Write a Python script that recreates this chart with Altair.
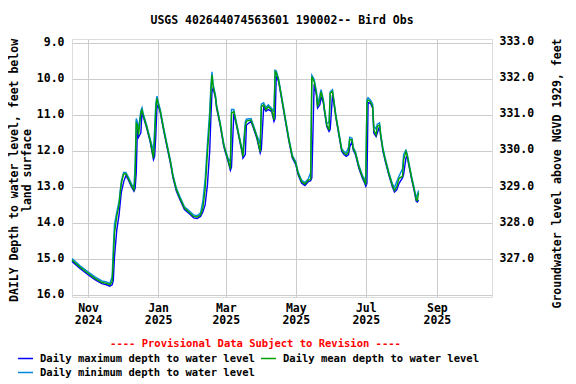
import altair as alt
import pandas as pd

dates = [
    "2024-10-18", "2024-10-25", "2024-11-01", "2024-11-07", "2024-11-13", "2024-11-17", "2024-11-20", "2024-11-22",
    "2024-11-23", "2024-11-24", "2024-11-26", "2024-11-28", "2024-11-29", "2024-11-30", "2024-12-02", "2024-12-04",
    "2024-12-06", "2024-12-09", "2024-12-11", "2024-12-12", "2024-12-13", "2024-12-14", "2024-12-15", "2024-12-17",
    "2024-12-18", "2024-12-19", "2024-12-22", "2024-12-25", "2024-12-28", "2024-12-29", "2024-12-30", "2024-12-31",
    "2025-01-01", "2025-01-03", "2025-01-06", "2025-01-09", "2025-01-12", "2025-01-14", "2025-01-17", "2025-01-20",
    "2025-01-24", "2025-01-29", "2025-02-01", "2025-02-04", "2025-02-07", "2025-02-09", "2025-02-11", "2025-02-13",
    "2025-02-15", "2025-02-16", "2025-02-17", "2025-02-18", "2025-02-20", "2025-02-21", "2025-02-24", "2025-02-27",
    "2025-02-28", "2025-03-03", "2025-03-05", "2025-03-06", "2025-03-08", "2025-03-09", "2025-03-12", "2025-03-15",
    "2025-03-16", "2025-03-18", "2025-03-19", "2025-03-23", "2025-03-25", "2025-03-28", "2025-03-31", "2025-04-01",
    "2025-04-03", "2025-04-05", "2025-04-07", "2025-04-10", "2025-04-12", "2025-04-13", "2025-04-14", "2025-04-16",
    "2025-04-19", "2025-04-22", "2025-04-25", "2025-04-28", "2025-05-01", "2025-05-03", "2025-05-06", "2025-05-09",
    "2025-05-12", "2025-05-14", "2025-05-15", "2025-05-17", "2025-05-19", "2025-05-20", "2025-05-22", "2025-05-23",
    "2025-05-25", "2025-05-26", "2025-05-28", "2025-05-30", "2025-05-31", "2025-06-02", "2025-06-03", "2025-06-05",
    "2025-06-08", "2025-06-10", "2025-06-12", "2025-06-14", "2025-06-16", "2025-06-17", "2025-06-19", "2025-06-20",
    "2025-06-22", "2025-06-25", "2025-06-28", "2025-06-30", "2025-07-01", "2025-07-02", "2025-07-03", "2025-07-05",
    "2025-07-07", "2025-07-08", "2025-07-10", "2025-07-11", "2025-07-13", "2025-07-14", "2025-07-16", "2025-07-18",
    "2025-07-21", "2025-07-24", "2025-07-26", "2025-07-28", "2025-07-30", "2025-08-02", "2025-08-03", "2025-08-05",
    "2025-08-06", "2025-08-08", "2025-08-10", "2025-08-12", "2025-08-14", "2025-08-15", "2025-08-16",
]

max_depth = [
    15.07, 15.27, 15.44, 15.58, 15.69, 15.72, 15.76, 15.72, 15.60, 14.95, 14.20, 13.78, 13.45, 13.15, 12.86, 12.68,
    12.80, 13.01, 13.12, 13.05, 12.60, 11.35, 11.62, 11.50, 10.92, 11.04, 11.36, 11.73, 12.24, 12.15, 11.60, 10.80,
    10.72, 10.95, 11.46, 11.92, 12.38, 12.75, 13.12, 13.35, 13.63, 13.77, 13.86, 13.88, 13.82, 13.70, 13.50, 12.95,
    12.00, 11.10, 10.35, 10.25, 10.53, 10.81, 11.27, 11.83, 11.97, 12.29, 12.54, 12.45, 10.97, 11.09, 11.55, 12.01,
    12.20, 12.10, 11.28, 11.18, 11.36, 11.64, 12.06, 11.95, 10.80, 10.90, 10.85, 10.90, 11.18, 11.10, 9.92, 10.07,
    10.62, 11.18, 11.73, 12.20, 12.38, 12.66, 12.89, 12.96, 12.85, 12.83, 12.75, 10.15, 10.44, 10.81, 10.72, 10.50,
    10.66, 10.90, 11.32, 11.46, 11.40, 10.45, 10.62, 11.09, 11.64, 12.01, 12.10, 12.15, 12.10, 11.90, 11.73, 11.97,
    12.10, 12.48, 12.75, 12.89, 12.98, 12.90, 10.66, 10.67, 10.81, 11.50, 11.60, 11.50, 11.32, 11.60, 12.01, 12.29,
    12.66, 12.98, 13.14, 13.08, 12.90, 12.75, 12.65, 12.20, 12.15, 12.48, 12.80, 13.08, 13.40, 13.42, 13.36,
]

mean_depth = [
    15.03, 15.23, 15.40, 15.54, 15.65, 15.68, 15.72, 15.63, 15.03, 14.29, 13.82, 13.50, 13.18, 12.90, 12.64, 12.64,
    12.76, 12.97, 13.08, 12.71, 11.23, 11.28, 11.56, 10.95, 10.86, 11.00, 11.32, 11.69, 12.20, 11.69, 10.86, 10.54,
    10.68, 10.91, 11.42, 11.88, 12.34, 12.71, 13.08, 13.31, 13.59, 13.73, 13.82, 13.84, 13.78, 13.59, 13.08, 12.06,
    11.14, 10.40, 9.89, 10.21, 10.49, 10.77, 11.23, 11.79, 11.93, 12.25, 12.50, 10.95, 10.91, 11.05, 11.51, 11.97,
    12.16, 11.32, 11.17, 11.14, 11.32, 11.60, 12.02, 10.77, 10.72, 10.86, 10.77, 10.86, 11.14, 9.80, 9.84, 10.03,
    10.58, 11.14, 11.69, 12.16, 12.34, 12.62, 12.85, 12.92, 12.81, 12.79, 9.94, 10.07, 10.40, 10.77, 10.58, 10.35,
    10.62, 10.86, 11.28, 11.42, 10.40, 10.35, 10.58, 11.05, 11.60, 11.97, 12.06, 12.11, 12.02, 11.69, 11.69, 11.93,
    12.06, 12.44, 12.71, 12.85, 12.94, 10.68, 10.58, 10.63, 10.77, 11.42, 11.56, 11.32, 11.28, 11.56, 11.97, 12.25,
    12.62, 12.94, 13.10, 12.99, 12.76, 12.71, 12.25, 12.02, 12.11, 12.44, 12.76, 13.04, 13.36, 13.38, 13.16,
]

min_depth = [
    14.99, 15.19, 15.36, 15.50, 15.61, 15.64, 15.68, 15.50, 14.70, 14.05, 13.70, 13.40, 13.10, 12.84, 12.60, 12.60,
    12.72, 12.93, 13.00, 12.40, 11.10, 11.20, 11.40, 10.88, 10.80, 10.96, 11.28, 11.65, 12.00, 11.40, 10.70, 10.48,
    10.62, 10.87, 11.38, 11.84, 12.30, 12.67, 13.04, 13.27, 13.55, 13.69, 13.78, 13.80, 13.72, 13.40, 12.80, 11.80,
    10.90, 10.20, 9.80, 10.15, 10.45, 10.73, 11.19, 11.75, 11.89, 12.21, 12.30, 10.85, 10.85, 11.01, 11.47, 11.93,
    12.00, 11.20, 11.12, 11.10, 11.28, 11.56, 11.80, 10.70, 10.66, 10.80, 10.72, 10.82, 10.90, 9.76, 9.78, 9.99,
    10.54, 11.10, 11.65, 12.12, 12.30, 12.58, 12.81, 12.88, 12.77, 12.60, 9.90, 10.01, 10.34, 10.70, 10.45, 10.30,
    10.56, 10.82, 11.24, 11.20, 10.36, 10.30, 10.54, 11.01, 11.56, 11.93, 12.02, 12.05, 11.90, 11.62, 11.65, 11.89,
    12.02, 12.40, 12.67, 12.81, 12.70, 10.58, 10.52, 10.58, 10.70, 11.30, 11.40, 11.26, 11.22, 11.52, 11.93, 12.21,
    12.58, 12.90, 13.02, 12.85, 12.70, 12.50, 12.10, 11.98, 12.07, 12.40, 12.72, 13.00, 13.32, 13.20, 13.10,
]

series_names = [
    "Daily maximum depth to water level",
    "Daily mean depth to water level",
    "Daily minimum depth to water level",
]
series_colors = ["#0000ff", "#00a000", "#0088e0"]

x_tick_dates = [(2024, 11), (2025, 1), (2025, 3), (2025, 5), (2025, 7), (2025, 9)]
left_ticks = [9, 10, 11, 12, 13, 14, 15, 16]
right_ticks = [327, 328, 329, 330, 331, 332, 333]
land_surface_elev = 341.97

title_text = "USGS 402644074563601 190002-- Bird Obs"
left_title = ["DAILY Depth to water level, feet below", "land surface"]
right_title = "Groundwater level above NGVD 1929, feet"
provisional = "---- Provisional Data Subject to Revision ----"

FONT = "DejaVu Sans Mono"

rows = []
# draw order: max, min, mean (mean on top)
for name, vals in [(series_names[0], max_depth), (series_names[2], min_depth), (series_names[1], mean_depth)]:
    for d, v in zip(dates, vals):
        rows.append({"date": pd.Timestamp(d), "depth": v, "series": name})
df = pd.DataFrame(rows)

x_enc = alt.X(
    "date:T",
    scale=alt.Scale(domain=[alt.DateTime(year=2024, month=10, date=18),
                            alt.DateTime(year=2025, month=10, date=19)]),
    axis=alt.Axis(
        values=[alt.DateTime(year=y, month=m, date=1) for y, m in x_tick_dates],
        labelExpr="[timeFormat(datum.value, '%b'), timeFormat(datum.value, '%Y')]",
        labelFont=FONT, labelFontSize=11.5, labelFontWeight="bold", labelColor="black",
        labelLineHeight=12, labelPadding=5, labelAlign="center",
        ticks=False, domain=False, grid=True, gridColor="#cccccc", gridWidth=1,
        title=provisional, titleColor="#ff0000", titleFont=FONT, titleFontSize=10.5,
        titleFontWeight="bold", titleX=183, titleY=46, titleAlign="center", titleBaseline="middle",
    ),
)

lines = alt.Chart(df).mark_line(strokeWidth=1.4).encode(
    x=x_enc,
    y=alt.Y(
        "depth:Q",
        scale=alt.Scale(domain=[8.89, 16.06], reverse=True, nice=False, zero=False),
        axis=alt.Axis(
            values=left_ticks, format=".1f",
            labelFont=FONT, labelFontSize=11.5, labelFontWeight="bold", labelColor="black",
            labelPadding=8, ticks=False, domain=False, grid=True, gridColor="#cccccc", gridWidth=1,
            title=left_title, titleFont=FONT, titleFontSize=11.5, titleFontWeight="bold",
            titleColor="black", titleLineHeight=13, titleAngle=270, titleX=-58, titleY=131,
            titleAlign="center", titleBaseline="middle",
        ),
    ),
    color=alt.Color(
        "series:N",
        scale=alt.Scale(domain=series_names, range=series_colors),
        legend=alt.Legend(
            title=None, orient="none", legendX=-55, legendY=311, columns=2, direction="horizontal",
            symbolType="stroke", symbolSize=225, symbolStrokeWidth=1.5, labelOffset=6,
            columnPadding=3, rowPadding=0, padding=0,
            labelFont=FONT, labelFontSize=10.5, labelFontWeight="bold", labelColor="black",
            labelLimit=400,
        ),
    ),
    detail="series:N",
)

right = alt.Chart(df).transform_filter(
    alt.datum.series == series_names[1]
).transform_calculate(
    elev=f"{land_surface_elev} - datum.depth"
).mark_line(opacity=0).encode(
    x=alt.X("date:T"),
    y=alt.Y(
        "elev:Q",
        scale=alt.Scale(domain=[325.92, 333.08], nice=False, zero=False),
        axis=alt.Axis(
            orient="right", values=right_ticks, format=".1f",
            labelFont=FONT, labelFontSize=11.5, labelFontWeight="bold", labelColor="black",
            labelPadding=7, ticks=False, domain=False, grid=False,
            title=right_title, titleFont=FONT, titleFontSize=11.5, titleFontWeight="bold",
            titleColor="black", titleAngle=270, titleX=65, titleY=134,
            titleAlign="center", titleBaseline="middle",
        ),
    ),
)

chart = alt.layer(lines, right).resolve_scale(y="independent").properties(
    width=420,
    height=258,
    autosize=alt.AutoSizeParams(type="none"),
    padding={"left": 64, "top": 31, "right": 76, "bottom": 85},
    title=alt.TitleParams(title_text, font=FONT, fontSize=11.5, fontWeight="bold", color="black",
                          anchor="middle", offset=9),
).configure_view(stroke="black", strokeWidth=1).configure(background="white")

chart.save("out.html", embed_options={"renderer": "svg", "actions": False})
